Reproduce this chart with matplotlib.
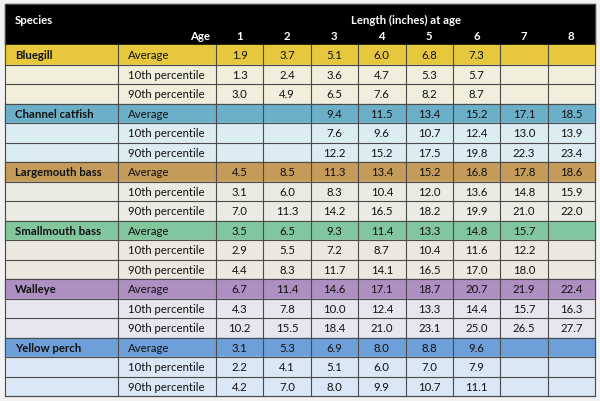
import matplotlib.pyplot as plt
from matplotlib.patches import Rectangle

plt.rcParams['font.family'] = ['Lato', 'DejaVu Sans']

species = ["Bluegill", "Channel catfish", "Largemouth bass",
           "Smallmouth bass", "Walleye", "Yellow perch"]
stats = ["Average", "10th percentile", "90th percentile"]
ages = [1, 2, 3, 4, 5, 6, 7, 8]

bluegill = [[1.9, 3.7, 5.1, 6.0, 6.8, 7.3, None, None],
            [1.3, 2.4, 3.6, 4.7, 5.3, 5.7, None, None],
            [3.0, 4.9, 6.5, 7.6, 8.2, 8.7, None, None]]
catfish = [[None, None, 9.4, 11.5, 13.4, 15.2, 17.1, 18.5],
           [None, None, 7.6, 9.6, 10.7, 12.4, 13.0, 13.9],
           [None, None, 12.2, 15.2, 17.5, 19.8, 22.3, 23.4]]
largemouth = [[4.5, 8.5, 11.3, 13.4, 15.2, 16.8, 17.8, 18.6],
              [3.1, 6.0, 8.3, 10.4, 12.0, 13.6, 14.8, 15.9],
              [7.0, 11.3, 14.2, 16.5, 18.2, 19.9, 21.0, 22.0]]
smallmouth = [[3.5, 6.5, 9.3, 11.4, 13.3, 14.8, 15.7, None],
              [2.9, 5.5, 7.2, 8.7, 10.4, 11.6, 12.2, None],
              [4.4, 8.3, 11.7, 14.1, 16.5, 17.0, 18.0, None]]
walleye = [[6.7, 11.4, 14.6, 17.1, 18.7, 20.7, 21.9, 22.4],
           [4.3, 7.8, 10.0, 12.4, 13.3, 14.4, 15.7, 16.3],
           [10.2, 15.5, 18.4, 21.0, 23.1, 25.0, 26.5, 27.7]]
perch = [[3.1, 5.3, 6.9, 8.0, 8.8, 9.6, None, None],
         [2.2, 4.1, 5.1, 6.0, 7.0, 7.9, None, None],
         [4.2, 7.0, 8.0, 9.9, 10.7, 11.1, None, None]]
tables = [bluegill, catfish, largemouth, smallmouth, walleye, perch]

dark_colors = ["#e7c83c", "#6cafc8", "#c59b5a", "#82c69d", "#ad8fc1", "#6d9fd8"]
light_colors = ["#f1eedb", "#dbecf3", "#ecebe3", "#eae8df", "#e8e5ee", "#d9e8f4"]

fig = plt.figure(figsize=(6, 4.02), dpi=100)
fig.patch.set_facecolor("#f2f2f2")
ax = fig.add_axes([0, 0, 1, 1])
ax.set_xlim(0, 600)
ax.set_ylim(402, 0)
ax.axis("off")

left, right, top, bottom = 5, 595, 5, 397
header_h = 41
col_edges = [left, 118, 216] + [216 + (right - 216) * (i + 1) / 8 for i in range(8)]
row_h = (bottom - top - header_h) / 18
fs = 8.2
line_c = "#4a4a4a"

ax.add_patch(Rectangle((left, top), right - left, header_h, color="black", zorder=1))
ax.text(15, top + 15, "Species", color="white", fontsize=fs, fontweight="bold", va="center")
ax.text(406, top + 15, "Length (inches) at age", color="white", fontsize=fs,
        fontweight="bold", va="center", ha="center")
ax.text(210, top + 32, "Age", color="white", fontsize=fs, fontweight="bold",
        va="center", ha="right")
for j, a in enumerate(ages):
    cx = (col_edges[j + 2] + col_edges[j + 3]) / 2
    ax.text(cx, top + 32, str(a), color="white", fontsize=fs, fontweight="bold",
            va="center", ha="center")

y = top + header_h
for s, name in enumerate(species):
    for r, st in enumerate(stats):
        fc = dark_colors[s] if r == 0 else light_colors[s]
        ax.add_patch(Rectangle((left, y), right - left, row_h, color=fc, zorder=1))
        cy = y + row_h / 2
        if r == 0:
            ax.text(15, cy, name, fontsize=fs, fontweight="bold", va="center", color="#111111")
        ax.text(128, cy, st, fontsize=fs, va="center", color="#111111")
        for j, v in enumerate(tables[s][r]):
            if v is not None:
                cx = (col_edges[j + 2] + col_edges[j + 3]) / 2
                ax.text(cx, cy, f"{v:.1f}", fontsize=fs, va="center", ha="center",
                        color="#111111")
        y += row_h
        ax.plot([left, right], [y, y], color=line_c, lw=0.8, zorder=2)

for x in col_edges[1:-1]:
    ax.plot([x, x], [top + header_h, bottom], color=line_c, lw=0.8, zorder=2)
ax.add_patch(Rectangle((left, top), right - left, bottom - top, fill=False,
                       edgecolor=line_c, lw=0.8, zorder=3))

fig.savefig("out.png", dpi=100, facecolor=fig.get_facecolor())
